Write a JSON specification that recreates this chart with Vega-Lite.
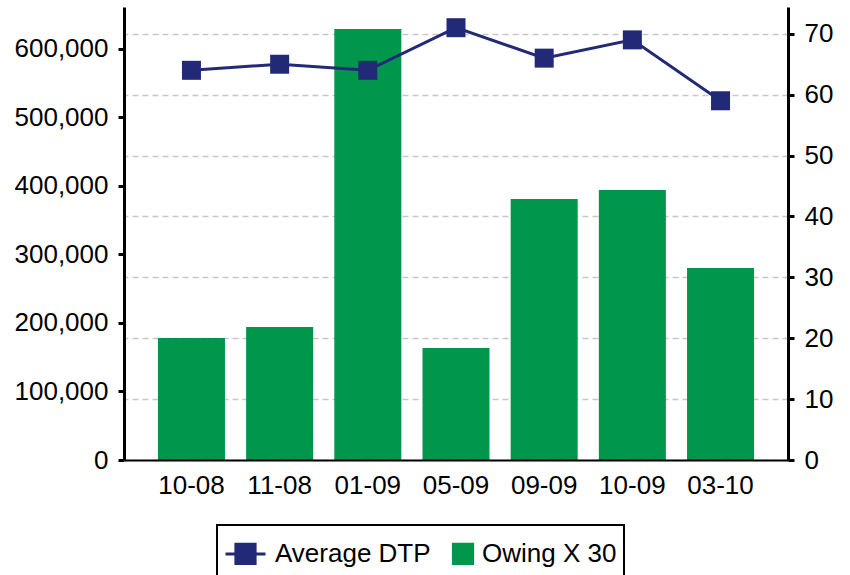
{
  "$schema": "https://vega.github.io/schema/vega-lite/v6.json",
  "autosize": {"type": "none"},
  "padding": {"left": 124, "top": 7, "right": 62, "bottom": 115},
  "width": 664,
  "height": 453,
  "background": "white",
  "data": {
    "values": [
      {"month": "10-08", "owing": 178100, "dtp": 64},
      {"month": "11-08", "owing": 194200, "dtp": 65},
      {"month": "01-09", "owing": 629200, "dtp": 64},
      {"month": "05-09", "owing": 163500, "dtp": 71},
      {"month": "09-09", "owing": 381000, "dtp": 66},
      {"month": "10-09", "owing": 394200, "dtp": 69},
      {"month": "03-10", "owing": 280300, "dtp": 59}
    ]
  },
  "encoding": {
    "x": {
      "field": "month",
      "type": "nominal",
      "sort": null,
      "scale": {"paddingInner": 0.24, "paddingOuter": 0.385},
      "axis": {
        "title": null,
        "labelAngle": 0,
        "ticks": false,
        "labelPadding": 12,
        "labelFontSize": 26,
        "labelFont": "Liberation Sans",
        "labelColor": "black",
        "domainColor": "black",
        "domainWidth": 2,
        "zindex": 1
      }
    }
  },
  "layer": [
    {
      "mark": {"type": "bar", "color": "#00964b"},
      "encoding": {
        "y": {
          "field": "owing",
          "type": "quantitative",
          "scale": {"domain": [0, 661300], "nice": false, "zero": true},
          "axis": {
            "orient": "left",
            "title": null,
            "grid": false,
            "values": [0, 100000, 200000, 300000, 400000, 500000, 600000],
            "format": ",d",
            "labelFontSize": 26,
            "labelFont": "Liberation Sans",
            "labelColor": "black",
            "domainColor": "black",
            "domainWidth": 3,
            "tickColor": "black",
            "tickWidth": 3,
            "tickSize": 6,
            "labelPadding": 10
          }
        },
        "color": {
          "datum": "Owing X 30",
          "scale": {"domain": ["Average DTP", "Owing X 30"], "range": ["#222a78", "#00964b"]},
          "legend": {
            "title": null,
            "orient": "none",
            "direction": "horizontal",
            "legendX": 93,
            "legendY": 518,
            "padding": 7,
            "strokeColor": "black",
            "symbolSize": 1600,
            "symbolStrokeWidth": 3,
            "columnPadding": 0,
            "labelOffset": 8,
            "labelFontSize": 26,
            "labelFont": "Liberation Sans",
            "labelColor": "black",
            "encode": {
              "legend": {"update": {"strokeWidth": {"value": 2}}},
              "symbols": {
                "update": {
                  "shape": {"signal": "datum.value === 'Average DTP' ? 'M-1,0H1M-0.48,-0.48H0.48V0.48H-0.48Z' : 'M0.045,-0.48H1.005V0.48H0.045Z'"},
                  "fill": {"signal": "datum.value === 'Average DTP' ? '#222a78' : '#00964b'"},
                  "stroke": {"signal": "datum.value === 'Average DTP' ? '#222a78' : '#00964b'"},
                  "opacity": {"value": 1},
                  "fillOpacity": {"value": 1},
                  "strokeOpacity": {"value": 1}
                }
              }
            }
          }
        }
      }
    },
    {
      "mark": {"type": "line", "strokeWidth": 3, "point": {"shape": "square", "size": 361, "filled": true, "opacity": 1}},
      "encoding": {
        "y": {
          "field": "dtp",
          "type": "quantitative",
          "scale": {"domain": [0, 74.4], "nice": false, "zero": true},
          "axis": {
            "orient": "right",
            "title": null,
            "grid": true,
            "gridColor": "#c8c8c8",
            "gridDash": [6, 4],
            "gridWidth": 1.5,
            "values": [0, 10, 20, 30, 40, 50, 60, 70],
            "labelFontSize": 26,
            "labelFont": "Liberation Sans",
            "labelColor": "black",
            "domainColor": "black",
            "domainWidth": 3,
            "tickColor": "black",
            "tickWidth": 3,
            "tickSize": 6,
            "labelPadding": 10
          }
        },
        "color": {"datum": "Average DTP"}
      }
    }
  ],
  "resolve": {"scale": {"y": "independent"}},
  "config": {
    "view": {"stroke": null},
    "font": "Liberation Sans"
  }
}
